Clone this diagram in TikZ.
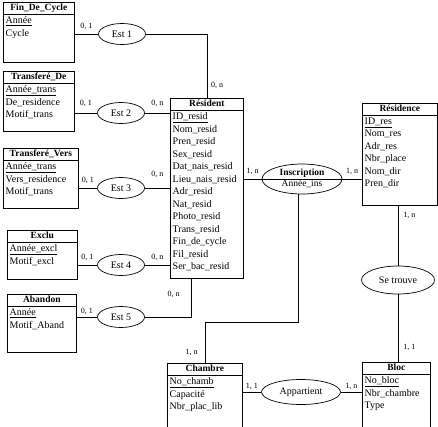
\documentclass[tikz,border=0pt]{standalone}
\usepackage{fontspec}
\setmainfont{Liberation Serif}
\usepackage{tikz}
\usetikzlibrary{shapes.geometric,positioning,calc}
\tikzset{
  ent/.style     ={rectangle, draw, line width=0.7pt, anchor=north west,
                   inner sep=0pt},
  enttitle/.style={anchor=north, inner sep=0pt, minimum height=11.5pt,
                   text height=7pt, text depth=2pt,
                   font=\fontsize{9.5}{11}\selectfont\bfseries},
  entattr/.style ={anchor=north west, align=left, inner xsep=2.5pt,
                   inner ysep=2.5pt, font=\fontsize{10}{12.5}\selectfont},
  rel/.style     ={ellipse, draw, line width=0.7pt, inner sep=0pt,
                   minimum width=47pt, minimum height=21pt,
                   font=\fontsize{10}{11}\selectfont},
  card/.style    ={inner sep=1pt, font=\fontsize{8}{9}\selectfont},
  lnk/.style     ={line width=0.7pt}
}
% name, corner, width, height, title, attributes
\newcommand{\entity}[6]{%
  \node[ent, minimum width=#3, minimum height=#4] (#1) at (#2) {};
  \node[enttitle] (#1-t) at (#1.north) {#5};
  \draw[lnk] (#1-t.south -| #1.west) -- (#1-t.south -| #1.east);
  \node[entattr] (#1-a) at (#1-t.south -| #1.west) {#6};
}

\begin{document}
\begin{tikzpicture}[x=1pt,y=-1pt]
\clip (0,0) rectangle (438,426);
% entities
\entity{fdc}{3,2}{71pt}{60pt}{Fin\_De\_Cycle}
  {\underline{Année}\\Cycle}
\entity{trd}{3,71}{71pt}{60pt}{Transferé\_De}
  {\underline{Année\_trans}\\De\_residence\\Motif\_trans}
\entity{trv}{3,148}{75pt}{60pt}{Transferé\_Vers}
  {\underline{Année\_trans}\\Vers\_residence\\Motif\_trans}
\entity{exc}{7,230}{70pt}{49pt}{Exclu}
  {\underline{Année\_excl}\\Motif\_excl}
\entity{aba}{7,294}{69pt}{58pt}{Abandon}
  {\underline{Année}\\Motif\_Aband}
\entity{res}{170,98}{73pt}{180pt}{Résident}
  {\underline{ID\_resid}\\Nom\_resid\\Pren\_resid\\Sex\_resid\\Dat\_nais\_resid\\
   Lieu\_nais\_resid\\Adr\_resid\\Nat\_resid\\Photo\_resid\\Trans\_resid\\
   Fin\_de\_cycle\\Fil\_resid\\Ser\_bac\_resid}
\entity{rsd}{362,103}{75pt}{102pt}{Résidence}
  {\underline{ID\_res}\\Nom\_res\\Adr\_res\\Nbr\_place\\Nom\_dir\\Pren\_dir}
\entity{cha}{167,363}{75pt}{70pt}{Chambre}
  {\underline{No\_chamb}\\Capacité\\Nbr\_plac\_lib}
\entity{blc}{362,362}{68pt}{70pt}{Bloc}
  {\underline{No\_bloc}\\Nbr\_chambre\\Type}

% relations
\node[rel] (est1) at (122,34) {Est 1};
\node[rel] (est2) at (121,113) {Est 2};
\node[rel] (est3) at (121,188) {Est 3};
\node[rel] (est4) at (121,265) {Est 4};
\node[rel] (est5) at (121,317) {Est 5};
\node[rel, minimum width=80pt, minimum height=30pt] (ins) at (302,179) {};
\draw[lnk] (ins.west) -- (ins.east);
\node[anchor=south, inner sep=1pt, font=\fontsize{9.5}{11}\selectfont\bfseries]
  (ins-t) at (ins.center) {Inscription};
\node[anchor=north, inner sep=1pt, font=\fontsize{9.5}{11}\selectfont]
  (ins-a) at (ins.center) {Année\_ins};
\node[rel, minimum width=73pt, minimum height=28pt] (st) at (398,280) {Se trouve};
\node[rel, minimum width=79pt, minimum height=25pt] (ap) at (301,392) {Appartient};

% links
\draw[lnk] (fdc.east |- est1.west) -- node[card, above=3pt] {0, 1} (est1.west);
\draw[lnk] (est1.east) -| node[card, pos=0.9, right=3pt] {0, n} (res.north);
\draw[lnk] (trd.east |- est2.west) -- node[card, above=5pt] {0, 1} (est2.west);
\draw[lnk] (est2.east) -- node[card, above=5pt] {0, n} (est2.east -| res.west);
\draw[lnk] (trv.east |- est3.west) -- node[card, above=3pt] {0, 1} (est3.west);
\draw[lnk] (est3.east) -- node[card, above=9pt] {0, n} (est3.east -| res.west);
\draw[lnk] (exc.east |- est4.west) -- node[card, above=3pt] {0, 1} (est4.west);
\draw[lnk] (est4.east) -- node[card, above=3pt] {0, n} (est4.east -| res.west);
\draw[lnk] (aba.east |- est5.west) -- node[card, above=1pt] {0, 1} (est5.west);
\draw[lnk] (est5.east) -| node[card, pos=0.8, left=10pt] {0, n}
  ([xshift=-16pt]res.south);
\draw[lnk] (ins.west -| res.east) -- node[card, above=3pt] {1, n} (ins.west);
\draw[lnk] (ins.east) -- node[card, above=3pt] {1, n} (ins.east -| rsd.west);
\draw[lnk] ([xshift=-4pt]ins.south) |- ([yshift=41pt]cha.north)
  -- node[card, pos=0.75, left=6pt] {1, n} (cha.north);
\draw[lnk] (rsd.south -| st.north) -- node[card, pos=0.16, right=4pt] {1, n} (st.north);
\draw[lnk] (st.south) -- node[card, pos=0.78, right=4pt] {1, 1} (st.south |- blc.north);
\draw[lnk] (cha.east |- ap.west) -- node[card, above=1pt] {1, 1} (ap.west);
\draw[lnk] (ap.east) -- node[card, above=1pt] {1, n} (ap.east -| blc.west);
\end{tikzpicture}
\end{document}
